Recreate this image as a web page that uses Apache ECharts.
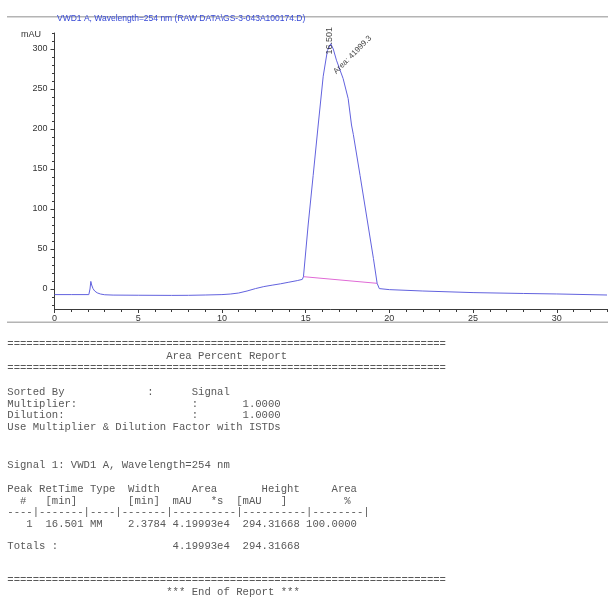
<!DOCTYPE html>
<html>
<head>
<meta charset="utf-8">
<script src="https://cdn.jsdelivr.net/npm/echarts@6/dist/echarts.min.js"></script>
<style>
  html, body { margin: 0; padding: 0; background: #fff; }
  #chart { width: 608px; height: 600px; }
</style>
</head>
<body>
<div id="chart"></div>
<script>
// Detector trace (VWD1 A, 254 nm): retention time [min] and signal [mAU]
const retTime = [0, 1, 2.05, 2.12, 2.17, 2.22, 2.3, 2.4, 2.55, 2.75, 3.0, 3.5, 5, 7, 8, 9, 10, 10.5, 11, 11.5, 12, 12.5, 13, 13.5, 14, 14.5, 14.8,
  14.87, 15.15, 15.45, 15.75, 16.05, 16.3, 16.501, 16.65, 16.84, 17.24, 17.54, 17.74, 17.85, 18.25, 18.65, 19.05, 19.27,
  19.4, 20, 22, 25, 28, 30, 33];
const signal = [-7, -7, -7, 0, 9.5, 5, 0.5, -2.5, -4.8, -6.3, -7.2, -7.6, -7.8, -8, -7.9, -7.5, -7, -6.3, -5, -2.5, 0.5, 3, 4.8, 6.5, 8.5, 10.5, 12,
  15.4, 80, 142, 205, 266, 298, 306.6, 300, 286, 263, 238, 205, 193, 142, 90, 38, 7.1,
  0.5, -0.8, -2.5, -4.5, -5.6, -6.2, -7.5];

// Integration baseline under the main peak
const baseTime = [14.87, 19.27];
const baseLevel = [15.4, 7.1];

// Peak annotation
const peakTime = 16.501;
const peakApex = 306.6;
const peakArea = 41999.3;

// Axis ticks
const xLabelValues = [0, 5, 10, 15, 20, 25, 30];
const xMinorValues = [0, 1, 2, 3, 4, 5, 6, 7, 8, 9, 10, 11, 12, 13, 14, 15, 16, 17, 18, 19, 20, 21, 22, 23, 24, 25, 26, 27, 28, 29, 30, 31, 32, 33];
const yLabelValues = [0, 50, 100, 150, 200, 250, 300];
const yMinorValues = [-20, -10, 0, 10, 20, 30, 40, 50, 60, 70, 80, 90, 100, 110, 120, 130, 140, 150, 160, 170, 180, 190, 200, 210, 220, 230, 240, 250, 260, 270, 280, 290, 300, 310, 320];

const signalTitle = 'VWD1 A, Wavelength=254 nm (RAW DATA\\GS-3-043A100174.D)';

// Report table contents
const sortedBy = 'Signal';
const multiplier = '1.0000';
const dilution = '1.0000';
const peakNo = '1';
const peakType = 'MM';
const peakWidth = '2.3784';
const areaText = '4.19993e4';
const heightText = '294.31668';
const areaPct = '100.0000';

// build a fixed-width line from [column, text] pairs
function cols(pairs) {
  let s = '';
  pairs.forEach(([c, t]) => { s = s.padEnd(c) + t; });
  return s;
}
const rule = '='.repeat(69);
const reportText = [
  rule,
  cols([[25, 'Area Percent Report']]),
  rule,
  cols([[0, 'Sorted By'], [22, ':'], [29, sortedBy]]),
  cols([[0, 'Multiplier:'], [29, ':'], [37, multiplier]]),
  cols([[0, 'Dilution:'], [29, ':'], [37, dilution]]),
  'Use Multiplier & Dilution Factor with ISTDs',
  'Signal 1: VWD1 A, Wavelength=254 nm',
  cols([[0, 'Peak'], [5, 'RetTime'], [13, 'Type'], [19, 'Width'], [29, 'Area'], [40, 'Height'], [51, 'Area']]),
  cols([[2, '#'], [6, '[min]'], [19, '[min]'], [26, 'mAU   *s'], [36, '[mAU   ]'], [53, '%']]),
  '----|-------|----|-------|----------|----------|--------|',
  cols([[3, peakNo], [6, peakTime.toFixed(3)], [13, peakType], [19, peakWidth], [26, areaText], [37, heightText], [47, areaPct]]),
  cols([[0, 'Totals :'], [26, areaText], [37, heightText]]),
  rule,
  cols([[25, '*** End of Report ***']])
];
const reportRowY = [344, 356, 368, 392, 404, 415.5, 427, 465, 489, 501, 512.5, 524, 546, 580, 592];

const chart = echarts.init(document.getElementById('chart'), null, { renderer: 'canvas' });

const axisColor = '#3a3a3a';
const tickFont = { fontFamily: '"Liberation Sans", Arial, sans-serif', fontSize: 9, color: '#333' };

const graphics = [
  { type: 'rect', shape: { x: 7, y: 16, width: 601, height: 1.6 }, style: { fill: '#b4b4b4' } },
  { type: 'rect', shape: { x: 7, y: 321.5, width: 601, height: 1.6 }, style: { fill: '#b4b4b4' } },
  { type: 'text', x: 41, y: 35, style: { text: 'mAU', fill: '#333', font: '9px "Liberation Sans", Arial, sans-serif', align: 'right', verticalAlign: 'middle' } }
];
reportText.forEach((t, i) => {
  graphics.push({
    type: 'text', x: 7.3, y: reportRowY[i],
    style: { text: t, fill: '#585858', font: '10.6px "Liberation Mono", "Courier New", monospace', verticalAlign: 'middle' }
  });
});

const option = {
  animation: false,
  title: {
    text: signalTitle,
    left: 57, top: 14,
    padding: 0,
    textStyle: { color: '#3548d6', fontSize: 8.5, fontWeight: 'normal', fontFamily: '"Liberation Sans", Arial, sans-serif' }
  },
  grid: { left: 54.5, right: 1, top: 33, bottom: 291 },
  xAxis: [
    {
      type: 'value', min: 0, max: 33, position: 'bottom',
      axisLine: { show: true, onZero: false, lineStyle: { color: axisColor, width: 1 } },
      axisTick: { show: true, customValues: xLabelValues, length: 4, lineStyle: { color: axisColor } },
      axisLabel: Object.assign({ customValues: xLabelValues, margin: 5 }, tickFont),
      splitLine: { show: false }
    },
    {
      type: 'value', min: 0, max: 33, position: 'bottom',
      axisLine: { show: false, onZero: false },
      axisTick: { show: true, customValues: xMinorValues, length: 3, lineStyle: { color: axisColor } },
      axisLabel: { show: false },
      splitLine: { show: false }
    }
  ],
  yAxis: [
    {
      type: 'value', min: -25, max: 320, position: 'left',
      axisLine: { show: true, onZero: false, lineStyle: { color: axisColor, width: 1 } },
      axisTick: { show: true, customValues: yLabelValues, length: 4, lineStyle: { color: axisColor } },
      axisLabel: Object.assign({ customValues: yLabelValues, margin: 7 }, tickFont),
      splitLine: { show: false }
    },
    {
      type: 'value', min: -25, max: 320, position: 'left',
      axisLine: { show: false, onZero: false },
      axisTick: { show: true, customValues: yMinorValues, length: 2.5, lineStyle: { color: axisColor } },
      axisLabel: { show: false },
      splitLine: { show: false }
    }
  ],
  graphic: graphics,
  series: [
    {
      name: 'signal', type: 'line', xAxisIndex: 0, yAxisIndex: 0,
      data: retTime.map((t, i) => [t, signal[i]]),
      showSymbol: false, symbol: 'none',
      lineStyle: { color: '#6262de', width: 1 },
      z: 3
    },
    {
      name: 'baseline', type: 'line', xAxisIndex: 0, yAxisIndex: 0,
      data: baseTime.map((t, i) => [t, baseLevel[i]]),
      showSymbol: false, symbol: 'none',
      lineStyle: { color: '#e06ad6', width: 1 },
      z: 2
    },
    {
      name: 'rt', type: 'scatter', xAxisIndex: 0, yAxisIndex: 0,
      data: [[peakTime, peakApex]],
      symbolSize: 0, silent: true,
      label: {
        show: true, position: 'inside', rotate: 90,
        formatter: () => peakTime.toFixed(3),
        color: '#111', fontSize: 9, fontFamily: '"Liberation Sans", Arial, sans-serif',
        align: 'center', verticalAlign: 'middle', offset: [3, -1]
      },
      z: 5
    },
    {
      name: 'area', type: 'scatter', xAxisIndex: 0, yAxisIndex: 0,
      data: [[peakTime, peakApex]],
      symbolSize: 0, silent: true,
      label: {
        show: true, position: 'inside', rotate: 45,
        formatter: () => 'Area: ' + peakArea.toFixed(1),
        color: '#111', fontSize: 8, fontFamily: '"Liberation Sans", Arial, sans-serif',
        align: 'left', verticalAlign: 'middle', offset: [-17.7, 23.3]
      },
      z: 5
    }
  ]
};
chart.setOption(option);
</script>
</body>
</html>
